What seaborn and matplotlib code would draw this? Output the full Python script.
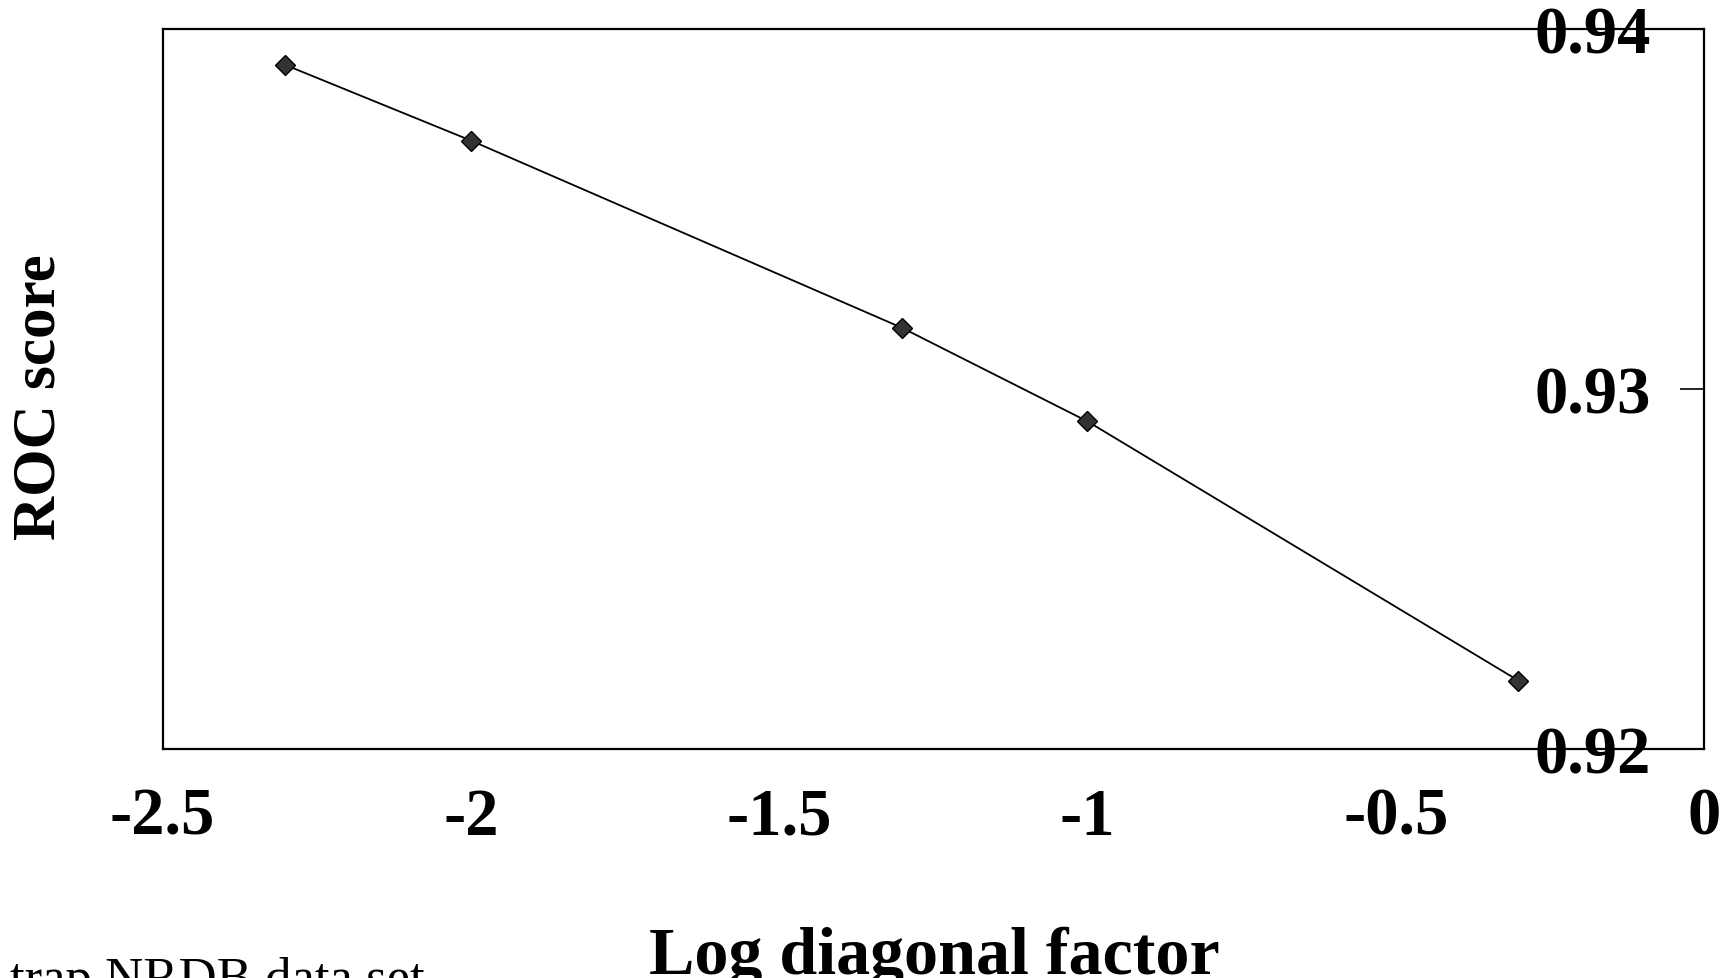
import numpy as np
import pandas as pd
import seaborn as sns
import matplotlib.pyplot as plt

# diagonal factors 0.005, 0.01, 0.05, 0.1, 0.5 on a log10 scale
log_factor = [-2.301, -2.0, -1.301, -1.0, -0.301]
roc_score = [0.9390, 0.9369, 0.9317, 0.9291, 0.9219]
x_ticks = [-2.5, -2, -1.5, -1, -0.5, 0]
x_tick_labels = ["-2.5", "-2", "-1.5", "-1", "-0.5", "0"]
y_ticks = [0.92, 0.93, 0.94]
y_tick_labels = ["0.92", "0.93", "0.94"]


def line_plot(df):
    fig = plt.figure(figsize=(17.34, 9.79), dpi=100)
    ax = fig.add_axes([0.0938, 0.2339, 0.8889, 0.7355])
    sns.lineplot(
        data=df,
        x="Log diagonal factor",
        y="ROC score",
        ax=ax,
        color="black",
        linewidth=1.3,
        marker="D",
        markersize=10,
        markerfacecolor="#333333",
        markeredgecolor="black",
        markeredgewidth=1,
    )
    ax.set_xlim(-2.5, 0)
    ax.set_ylim(0.92, 0.94)
    for side in ["left", "right", "top", "bottom"]:
        ax.spines[side].set_visible(True)
        ax.spines[side].set_color("black")
        ax.spines[side].set_linewidth(1.6)

    ax.set_xticks(x_ticks)
    ax.set_xticklabels(x_tick_labels)
    ax.tick_params(axis="x", direction="out", length=13, width=1.2,
                   pad=14, labelsize=48, colors="black")

    ax.yaxis.tick_right()
    ax.set_yticks(y_ticks)
    ax.set_yticklabels(y_tick_labels)
    ax.tick_params(axis="y", direction="in", length=17, width=1.2,
                   pad=-38, labelsize=48, colors="black")
    for lbl in ax.get_yticklabels():
        lbl.set_horizontalalignment("right")
        lbl.set_fontweight("bold")
    for lbl in ax.get_xticklabels():
        lbl.set_fontweight("bold")

    ax.set_xlabel("Log diagonal factor", fontsize=49, fontweight="bold", color="black")
    ax.xaxis.set_label_coords(0.5006, -0.245)
    ax.yaxis.set_label_position("left")
    ax.set_ylabel("ROC score", fontsize=44, fontweight="bold",
                  va="center", rotation=90, color="black")
    ax.yaxis.set_label_coords(-0.080, 0.49)

    fig.text(0.006, 0.022, "trap NRDB data set", fontsize=38,
             va="top", ha="left", color="black")
    fig.savefig("out.png", dpi=100)


def main():
    df = pd.DataFrame({"Log diagonal factor": log_factor, "ROC score": roc_score})
    line_plot(df)


if __name__ == "__main__":
    sns.set_theme(style="white")
    plt.rcParams["font.family"] = ["Liberation Serif", "DejaVu Serif"]
    plt.rcParams["text.color"] = "black"
    main()
